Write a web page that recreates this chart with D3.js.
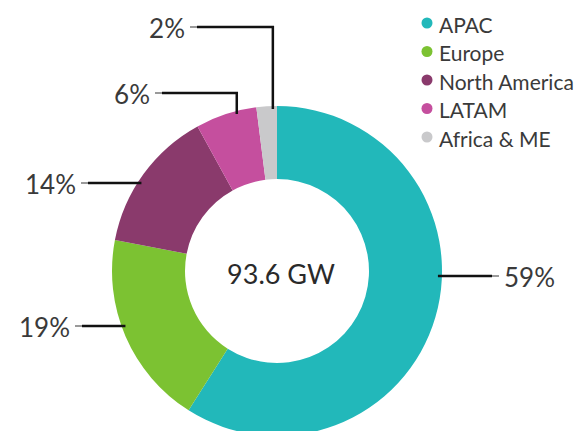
<!DOCTYPE html>
<html>
<head>
<meta charset="utf-8">
<script src="https://cdn.jsdelivr.net/npm/d3@7"></script>
<style>
  html, body { margin: 0; padding: 0; background: #fff; }
  svg { display: block; }
  text { font-family: Lato, "Open Sans", sans-serif; }
</style>
</head>
<body>
<svg id="chart" width="582" height="431"></svg>
<script>
// ---- data ----
const regions = ["APAC", "Europe", "North America", "LATAM", "Africa & ME"];
const shares = [59, 19, 14, 6, 2];
const percentLabels = ["59%", "19%", "14%", "6%", "2%"];
const colors = ["#22b8ba", "#7cc232", "#8a3a6c", "#c54f9e", "#c9c9cb"];
const centerLabel = "93.6 GW";

// ---- layout ----
const W = 582, H = 431;
const cx = 277, cy = 271, R = 165, r = 92;

const svg = d3.select("#chart");
const g = svg.append("g").attr("transform", `translate(${cx},${cy})`);

const pie = d3.pie().sort(null).value(d => d);
const arcs = pie(shares);
const arc = d3.arc().innerRadius(r).outerRadius(R);

g.selectAll("path.slice")
  .data(arcs)
  .join("path")
  .attr("class", "slice")
  .attr("d", arc)
  .attr("fill", (d, i) => colors[i]);

g.append("text")
  .attr("x", 4).attr("y", 2)
  .attr("text-anchor", "middle")
  .attr("dominant-baseline", "central")
  .attr("font-size", 27)
  .attr("fill", "#2a2a2a")
  .text(centerLabel);

// leader line layout per slice (index into data)
// type 'h': horizontal leader at height ly (relative to center), label side
// type 'v': vertical from ring at fraction of slice angle up to ly, then horizontal
const leaders = [
  { i: 0, type: "h", ly: 5, side: 1, end: 215 },
  { i: 1, type: "h", ly: 55, side: -1, end: -195 },
  { i: 2, type: "h", ly: -88, side: -1, end: -189 },
  { i: 3, type: "v", frac: 0.68, ly: -178, end: -115 },
  { i: 4, type: "v", frac: 0.8, ly: -244, end: -80 }
];

const lg = g.append("g");
leaders.forEach(L => {
  const a = arcs[L.i];
  let pts;
  if (L.type === "h") {
    const x0 = L.side * Math.sqrt(R * R - L.ly * L.ly) - L.side * 4;
    pts = [[x0, L.ly], [L.end, L.ly]];
  } else {
    const ang = a.startAngle + (a.endAngle - a.startAngle) * L.frac;
    const x0 = R * Math.sin(ang);
    const y0 = -R * Math.cos(ang);
    pts = [[x0, y0 + 3], [x0, L.ly], [L.end, L.ly]];
  }
  lg.append("path")
    .attr("d", d3.line()(pts))
    .attr("fill", "none")
    .attr("stroke", "#111")
    .attr("stroke-width", 2.5);
  const last = pts[pts.length - 1];
  const dir = Math.sign(last[0] - pts[pts.length - 2][0]);
  lg.append("line")
    .attr("x1", last[0]).attr("y1", last[1])
    .attr("x2", last[0] + dir * 7).attr("y2", last[1])
    .attr("stroke", "#9a9a9a").attr("stroke-width", 2);
  lg.append("text")
    .attr("x", last[0] + dir * 12)
    .attr("y", last[1] + 1)
    .attr("text-anchor", dir > 0 ? "start" : "end")
    .attr("dominant-baseline", "central")
    .attr("font-size", 26)
    .attr("fill", "#3a3a3a")
    .text(percentLabels[L.i]);
});

// legend
const legend = svg.append("g").attr("transform", "translate(427,23)");
const rows = legend.selectAll("g")
  .data(regions)
  .join("g")
  .attr("transform", (d, i) => `translate(0,${i * 28.5})`);
rows.append("circle").attr("r", 5.5).attr("fill", (d, i) => colors[i]);
rows.append("text")
  .attr("x", 12).attr("y", 1)
  .attr("dominant-baseline", "central")
  .attr("font-size", 21)
  .attr("fill", "#3a3a3a")
  .text(d => d);
</script>
</body>
</html>
